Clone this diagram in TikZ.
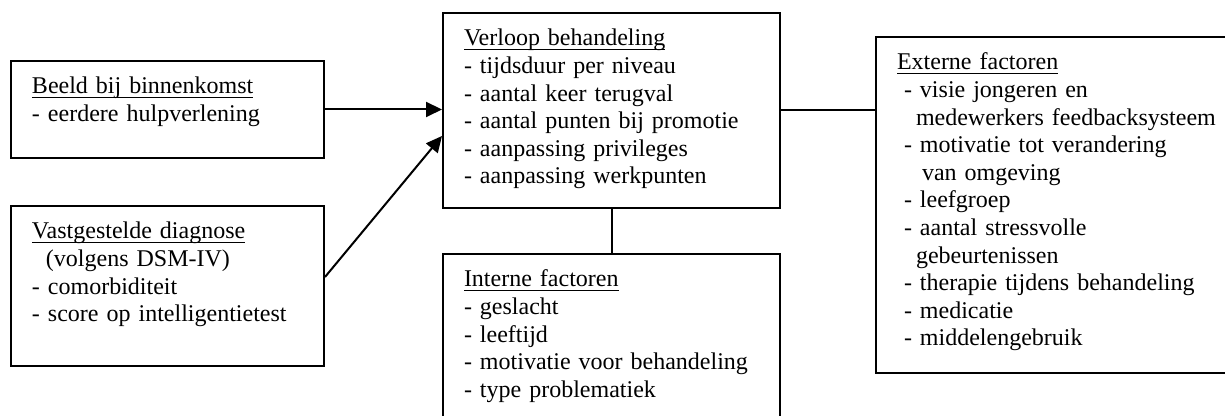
\documentclass[tikz,border=0pt]{standalone}
\usepackage{fontspec}
\setmainfont{Liberation Serif}
\usetikzlibrary{arrows.meta}
% underlined heading, rule close under the baseline
\newcommand\kop[1]{\leavevmode\setbox0=\hbox{#1}\rlap{\rule[-2.1pt]{\wd0}{0.8pt}}\box0}

\begin{document}
\begin{tikzpicture}[x=0.5pt,y=0.5pt,
  every node/.style={font=\fontsize{12pt}{13.8pt}\selectfont},
  vak/.style={draw,line width=1pt,anchor=north west,align=left,
    inner xsep=10.5pt,inner ysep=8pt,text height=8.5pt},
  pijl/.style={-{Triangle[length=8pt,width=7.5pt]},line width=1pt}]
  \clip (0,0) rectangle (1225,416);

  % left column: what is known at intake
  \node[vak,text width=135.5pt,text depth=24pt] (beeld) at (10,356)
    {\kop{Beeld bij binnenkomst}\\- eerdere hulpverlening};
  \node[vak,text width=135.5pt,text depth=55.5pt] (diagnose) at (10,211)
    {\kop{Vastgestelde diagnose}\\\hspace*{7pt}(volgens DSM-IV)\\- comorbiditeit\\- score op intelligentietest};

  % middle column
  \node[vak,text width=147.5pt,text depth=73pt] (verloop) at (442,404)
    {\kop{Verloop behandeling}\\- tijdsduur per niveau\\- aantal keer terugval\\- aantal punten bij promotie\\- aanpassing privileges\\- aanpassing werkpunten};
  \node[vak,text width=147.5pt,text depth=67pt] (intern) at (442,163)
    {\kop{Interne factoren}\\- geslacht\\- leeftijd\\- motivatie voor behandeling\\- type problematiek};

  % right column
  \node[vak,text width=161.5pt,text depth=143.5pt] (extern) at (875,380)
    {\kop{Externe factoren}\\
     \hspace*{3.5pt}- visie jongeren en\\
     \hspace*{9.5pt}medewerkers feedbacksysteem\\
     \hspace*{3.5pt}- motivatie tot verandering\\
     \hspace*{12.5pt}van omgeving\\
     \hspace*{3.5pt}- leefgroep\\
     \hspace*{3.5pt}- aantal stressvolle\\
     \hspace*{9.5pt}gebeurtenissen\\
     \hspace*{3.5pt}- therapie tijdens behandeling\\
     \hspace*{3.5pt}- medicatie\\
     \hspace*{3.5pt}- middelengebruik};

  \draw[pijl] (beeld.east) -- (beeld.east -| verloop.west);
  \draw[pijl] ([yshift=4.5pt]diagnose.east) -- ([yshift=-12.75pt]verloop.west);
  \draw[line width=1pt] (verloop.east) -- (verloop.east -| extern.west);
  \draw[line width=1pt] (verloop.south) -- (intern.north);
\end{tikzpicture}
\end{document}
